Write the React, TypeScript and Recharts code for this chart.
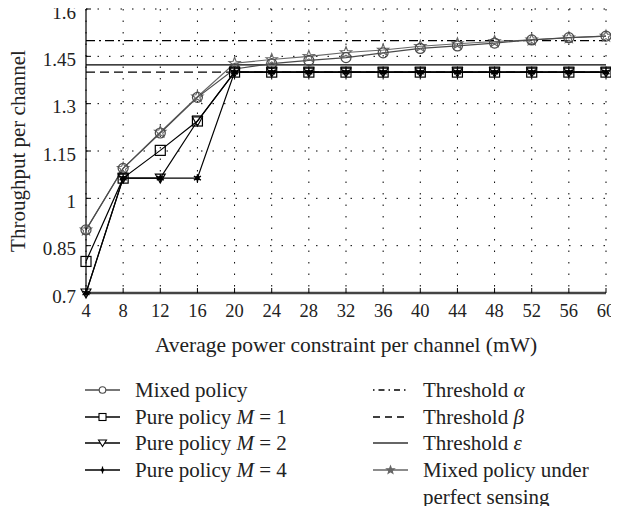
import React from 'react';
import { LineChart, Line, XAxis, YAxis, CartesianGrid, ReferenceLine } from 'recharts';

const power = [4, 8, 12, 16, 20, 24, 28, 32, 36, 40, 44, 48, 52, 56, 60];
const mixedPolicy = [0.9, 1.095, 1.207, 1.32, 1.41, 1.427, 1.437, 1.446, 1.461, 1.475, 1.483, 1.492, 1.502, 1.509, 1.514];
const pureM1 = [0.8, 1.064, 1.152, 1.245, 1.4, 1.4, 1.4, 1.4, 1.4, 1.4, 1.4, 1.4, 1.4, 1.4, 1.4];
const pureM2 = [0.7, 1.064, 1.064, 1.245, 1.4, 1.4, 1.4, 1.4, 1.4, 1.4, 1.4, 1.4, 1.4, 1.4, 1.4];
const pureM4 = [0.7, 1.064, 1.064, 1.064, 1.4, 1.4, 1.4, 1.4, 1.4, 1.4, 1.4, 1.4, 1.4, 1.4, 1.4];
const perfectSensing = [0.9, 1.095, 1.21, 1.322, 1.428, 1.44, 1.45, 1.462, 1.47, 1.482, 1.49, 1.497, 1.502, 1.509, 1.514];
const thresholdAlpha = 1.5;
const thresholdBeta = 1.4;
const thresholdEpsilon = 1.423;
const xTicks = [4, 8, 12, 16, 20, 24, 28, 32, 36, 40, 44, 48, 52, 56, 60];
const yTicks = [0.7, 0.85, 1, 1.15, 1.3, 1.45, 1.6];
const yTickLabels = ['0.7', '0.85', '1', '1.15', '1.3', '1.45', '1.6'];

const data = power.map((p, i) => ({
  p,
  mixed: mixedPolicy[i],
  m1: pureM1[i],
  m2: pureM2[i],
  m4: pureM4[i],
  perfect: perfectSensing[i],
}));

const FONT = '"Liberation Serif", "DejaVu Serif", serif';
const GRAY = '#4a4a4a';
const STARGRAY = '#666';
const TEXT = '#222';

const circleShape = (cx: number, cy: number, k?: any, r = 5) => (
  <circle key={k} cx={cx} cy={cy} r={r} fill="none" stroke={GRAY} strokeWidth={1.2} />
);
const squareShape = (cx: number, cy: number, k?: any) => (
  <rect key={k} x={cx - 5} y={cy - 5} width={10} height={10} fill="none" stroke="#000" strokeWidth={1.2} />
);
const triShape = (cx: number, cy: number, k?: any) => (
  <polygon key={k} points={`${cx - 5},${cy - 4} ${cx + 5},${cy - 4} ${cx},${cy + 5}`} fill="none" stroke="#000" strokeWidth={1.1} />
);
const asteriskShape = (cx: number, cy: number, k?: any) => (
  <g key={k} stroke="#000" strokeWidth={1.4}>
    <line x1={cx} y1={cy - 4} x2={cx} y2={cy + 4} />
    <line x1={cx - 3.5} y1={cy - 2} x2={cx + 3.5} y2={cy + 2} />
    <line x1={cx - 3.5} y1={cy + 2} x2={cx + 3.5} y2={cy - 2} />
    <circle cx={cx} cy={cy} r={1.6} fill="#000" />
  </g>
);
const starPoints = (cx: number, cy: number, ro: number, ri: number) => {
  const pts: string[] = [];
  for (let i = 0; i < 10; i++) {
    const r = i % 2 === 0 ? ro : ri;
    const a = -Math.PI / 2 + (i * Math.PI) / 5;
    pts.push(`${cx + r * Math.cos(a)},${cy + r * Math.sin(a)}`);
  }
  return pts.join(' ');
};
const starShape = (cx: number, cy: number, k?: any, filled = false, ro = 6) => (
  <polygon key={k} points={starPoints(cx, cy, ro, ro * 0.42)} fill={filled ? STARGRAY : 'none'} stroke={STARGRAY} strokeWidth={1.1} />
);

const mkDot = (fn: (cx: number, cy: number, k?: any) => React.ReactElement) => (props: any) => {
  const { cx, cy, index } = props;
  if (cx == null || cy == null) return <g key={`e${index}`} />;
  return fn(cx, cy, `d${index}`);
};

const YTick = (props: any) => {
  const { x, y, payload } = props;
  const label = yTickLabels[yTicks.indexOf(payload.value)] ?? String(payload.value);
  return (
    <text x={x} y={y} dy={3} textAnchor="end" dominantBaseline="central" fontFamily={FONT} fontSize={19} fill={TEXT}>
      {label}
    </text>
  );
};

const LegendRow = ({ marker, children, top, left }: any) => (
  <div style={{ position: 'absolute', left, top, height: 26, display: 'flex', alignItems: 'center' }}>
    <svg width={36} height={20} style={{ marginRight: 14 }}>{marker}</svg>
    <span style={{ fontFamily: FONT, fontSize: 21, color: TEXT, whiteSpace: 'nowrap' }}>{children}</span>
  </div>
);

const lineSeg = (stroke = '#000', dash?: string) => (
  <line x1={0} y1={10} x2={35} y2={10} stroke={stroke} strokeWidth={1.3} strokeDasharray={dash} />
);

export default function App() {
  return (
    <div style={{ position: 'relative', margin: '-8px 0 -8px -8px', width: 619, height: 514, background: '#fff' }}>
      <LineChart
        width={619}
        height={514}
        data={data}
        margin={{ top: 9, right: 13, bottom: 151, left: 0 }}
      >
        <CartesianGrid stroke="#000" strokeWidth={1} strokeDasharray="1.5 10" />
        <XAxis
          dataKey="p"
          type="number"
          domain={[4, 60]}
          ticks={xTicks}
          interval={0}
          height={70}
          tickSize={-5}
          tickMargin={16}
          axisLine={{ stroke: '#444', strokeWidth: 2.5 }}
          tickLine={{ stroke: '#000' }}
          tick={{ fontFamily: FONT, fontSize: 18.5, fill: TEXT }}
          label={{ value: 'Average power constraint per channel (mW)', position: 'center', dy: 16, style: { fontFamily: FONT, fontSize: 21.5, fill: TEXT } }}
        />
        <XAxis
          xAxisId="top"
          orientation="top"
          dataKey="p"
          type="number"
          domain={[4, 60]}
          ticks={xTicks}
          interval={0}
          height={0}
          tickSize={-5}
          tick={false}
          axisLine={{ stroke: '#000', strokeWidth: 1.2 }}
          tickLine={{ stroke: '#000' }}
        />
        <YAxis
          type="number"
          domain={[0.7, 1.6]}
          ticks={yTicks}
          interval={0}
          width={86}
          tickSize={-5}
          tickMargin={15}
          axisLine={{ stroke: '#000', strokeWidth: 1.2 }}
          tickLine={{ stroke: '#000' }}
          tick={<YTick />}
          label={{ value: 'Throughput per channel', angle: -90, position: 'center', dx: -25, style: { fontFamily: FONT, fontSize: 21, fill: TEXT, textAnchor: 'middle' } }}
        />
        <YAxis
          yAxisId="right"
          orientation="right"
          type="number"
          domain={[0.7, 1.6]}
          ticks={yTicks}
          interval={0}
          width={0}
          tickSize={-5}
          tick={false}
          axisLine={{ stroke: '#000', strokeWidth: 1.2 }}
          tickLine={{ stroke: '#000' }}
        />
        <ReferenceLine y={thresholdAlpha} stroke="#000" strokeWidth={1.2} strokeDasharray="9 4 2 4" />
        <ReferenceLine y={thresholdBeta} stroke="#000" strokeWidth={1.2} strokeDasharray="9 5" />
        <ReferenceLine y={thresholdEpsilon} stroke="#000" strokeWidth={1.2} />
        <Line dataKey="perfect" stroke={STARGRAY} strokeWidth={1.1} dot={mkDot((x, y, k) => starShape(x, y, k))} isAnimationActive={false} />
        <Line dataKey="mixed" stroke={GRAY} strokeWidth={1.2} dot={mkDot((x, y, k) => circleShape(x, y, k))} isAnimationActive={false} />
        <Line dataKey="m1" stroke="#000" strokeWidth={1.2} dot={mkDot(squareShape)} isAnimationActive={false} />
        <Line dataKey="m2" stroke="#000" strokeWidth={1.2} dot={mkDot(triShape)} isAnimationActive={false} />
        <Line dataKey="m4" stroke="#000" strokeWidth={1.2} dot={mkDot(asteriskShape)} isAnimationActive={false} />
      </LineChart>

      <LegendRow left={85} top={377} marker={<g>{lineSeg(GRAY)}<circle cx={17.5} cy={10} r={3.3} fill="#fff" stroke={GRAY} strokeWidth={1.1} /></g>}>Mixed policy</LegendRow>
      <LegendRow left={85} top={404} marker={<g>{lineSeg()}<rect x={14} y={6.5} width={7} height={7} fill="#fff" stroke="#000" strokeWidth={1.1} /></g>}>Pure policy <i>M</i> = 1</LegendRow>
      <LegendRow left={85} top={430} marker={<g>{lineSeg()}<polygon points="13.5,7 21.5,7 17.5,13.5" fill="#fff" stroke="#000" strokeWidth={1.1} /></g>}>Pure policy <i>M</i> = 2</LegendRow>
      <LegendRow left={85} top={457} marker={<g>{lineSeg()}<circle cx={17.5} cy={10} r={1.8} fill="#000" /><line x1={17.5} y1={6.5} x2={17.5} y2={13.5} stroke="#000" strokeWidth={1.2} /></g>}>Pure policy <i>M</i> = 4</LegendRow>

      <LegendRow left={373} top={377} marker={lineSeg('#000', '1.5 4 6 4')}>Threshold <i>α</i></LegendRow>
      <LegendRow left={373} top={404} marker={lineSeg('#000', '7 5')}>Threshold <i>β</i></LegendRow>
      <LegendRow left={373} top={430} marker={lineSeg('#333')}>Threshold <i>ε</i></LegendRow>
      <LegendRow left={373} top={457} marker={<g>{lineSeg(STARGRAY)}{starShape(17.5, 10, undefined, true, 4)}</g>}>Mixed policy under</LegendRow>
      <div style={{ position: 'absolute', left: 423, top: 484, height: 26, display: 'flex', alignItems: 'center', fontFamily: FONT, fontSize: 21, color: TEXT, whiteSpace: 'nowrap' }}>perfect sensing</div>
    </div>
  );
}
